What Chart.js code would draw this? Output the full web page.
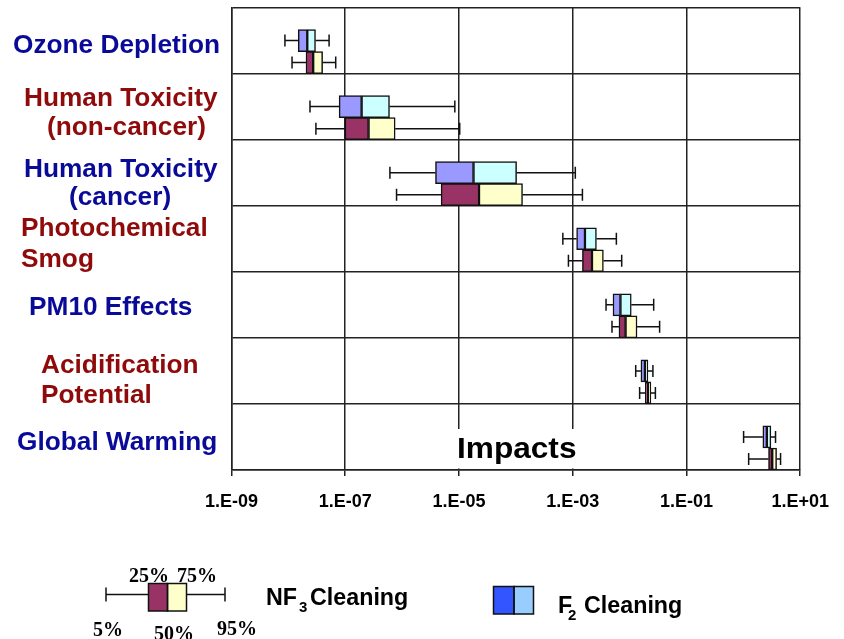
<!DOCTYPE html>
<html><head><meta charset="utf-8">
<script src="https://cdn.jsdelivr.net/npm/chart.js@4/dist/chart.umd.min.js"></script>
<style>html,body{margin:0;padding:0;background:#fff;}canvas{display:block;}</style>
</head><body>
<canvas id="c" width="844" height="639"></canvas>
<script>
// ---- data ----
const categories = ['Ozone Depletion', 'Human Toxicity (non-cancer)', 'Human Toxicity (cancer)',
  'Photochemical Smog', 'PM10 Effects', 'Acidification Potential', 'Global Warming'];
const labelLines = [['Ozone Depletion'], ['Human Toxicity', '(non-cancer)'], ['Human Toxicity', '(cancer)'],
  ['Photochemical', 'Smog'], ['PM10 Effects'], ['Acidification', 'Potential'], ['Global Warming']];

// F2 cleaning: 5%, 25%, 50%, 75%, 95%
const f2P5  = [8.7e-9, 2.4e-8, 6.1e-7, 6.7e-4, 3.85e-3, 1.28e-2, 1.01];
const f2Q1  = [1.49e-8, 7.8e-8, 3.86e-6, 1.17e-3, 5.1e-3, 1.58e-2, 2.2];
const f2Med = [2.15e-8, 1.94e-7, 1.8e-5, 1.64e-3, 6.9e-3, 1.86e-2, 2.59];
const f2Q3  = [3.0e-8, 6.0e-7, 1.03e-4, 2.61e-3, 1.07e-2, 2.1e-2, 3.05];
const f2P95 = [5.2e-8, 8.45e-6, 1.11e-3, 5.85e-3, 2.65e-2, 2.57e-2, 3.68];

// NF3 cleaning: 5%, 25%, 50%, 75%, 95%
const nf3P5  = [1.16e-8, 3.05e-8, 7.98e-7, 8.4e-4, 4.9e-3, 1.5e-2, 1.24];
const nf3Q1  = [2.04e-8, 9.9e-8, 4.85e-6, 1.48e-3, 6.5e-3, 1.89e-2, 2.77];
const nf3Med = [2.73e-8, 2.57e-7, 2.25e-5, 2.18e-3, 8.5e-3, 2.1e-2, 3.22];
const nf3Q3  = [4.0e-8, 7.55e-7, 1.31e-4, 3.46e-3, 1.35e-2, 2.37e-2, 3.84];
const nf3P95 = [6.8e-8, 1.03e-5, 1.48e-3, 7.26e-3, 3.37e-2, 2.84e-2, 4.51];

const xTickValues = [1e-9, 1e-7, 1e-5, 1e-3, 1e-1, 1e1];
const xTickLabels = ['1.E-09', '1.E-07', '1.E-05', '1.E-03', '1.E-01', '1.E+01'];

// ---- styling / layout ----
const BLUE = '#0a0a99', RED = '#8f0a0a';
const labelColors = [BLUE, RED, BLUE, RED, BLUE, RED, BLUE];
const labelX = [[14], [25, 48], [25, 70], [22, 22], [30], [42, 42], [18]];
const labelDy = [[12.8], [-0.6, 28.1], [4, 32.3], [-2.6, 28.7], [9.7], [1.8, 32.4], [12.7]];

function txt(ctx, s, x, y, font, color, sx) {
  ctx.save();
  ctx.font = font; ctx.fillStyle = color;
  ctx.textAlign = 'left'; ctx.textBaseline = 'alphabetic';
  ctx.translate(x, y); ctx.scale(sx || 1, 1);
  ctx.fillText(s, 0, 0);
  ctx.restore();
}

const whiskerPlugin = {
  id: 'whiskers',
  afterDatasetsDraw(chart) {
    const ctx = chart.ctx, xs = chart.scales.x;
    const series = [
      {ds: 1, p5: f2P5, q1: f2Q1, q3: f2Q3, p95: f2P95},
      {ds: 3, p5: nf3P5, q1: nf3Q1, q3: nf3Q3, p95: nf3P95}
    ];
    ctx.save();
    ctx.strokeStyle = '#111'; ctx.lineWidth = 1.5;
    series.forEach(s => {
      chart.getDatasetMeta(s.ds).data.forEach((el, i) => {
        const y = el.y;
        const a = xs.getPixelForValue(s.p5[i]), b = xs.getPixelForValue(s.q1[i]);
        const c = xs.getPixelForValue(s.q3[i]), d = xs.getPixelForValue(s.p95[i]);
        ctx.beginPath();
        ctx.moveTo(a, y); ctx.lineTo(b, y);
        ctx.moveTo(c, y); ctx.lineTo(d, y);
        ctx.moveTo(a, y - 6); ctx.lineTo(a, y + 6);
        ctx.moveTo(d, y - 6); ctx.lineTo(d, y + 6);
        ctx.stroke();
      });
    });
    ctx.restore();
  }
};

const decorPlugin = {
  id: 'decor',
  beforeDatasetsDraw(chart) {
    const ctx = chart.ctx;
    ctx.save();
    ctx.fillStyle = '#fff';
    ctx.fillRect(450, 429, 135, 39.5);
    ctx.restore();
    txt(ctx, 'Impacts', 457, 457.5, 'bold 29px "Liberation Sans", Arial, sans-serif', '#000', 1.09);
  },
  afterDraw(chart) {
    const ctx = chart.ctx, ys = chart.scales.y;
    // category labels
    labelLines.forEach((lines, i) => {
      const yc = ys.getPixelForValue(i);
      lines.forEach((line, j) => {
        txt(ctx, line, labelX[i][j] - 1, yc + labelDy[i][j], 'bold 25px "Liberation Sans", Arial, sans-serif', labelColors[i], 1.05);
      });
    });
    // legend: box plot key
    ctx.save();
    ctx.strokeStyle = '#111'; ctx.lineWidth = 1.5;
    ctx.beginPath();
    ctx.moveTo(106, 594.5); ctx.lineTo(148, 594.5);
    ctx.moveTo(187, 594.5); ctx.lineTo(225, 594.5);
    ctx.moveTo(106, 587.5); ctx.lineTo(106, 601.5);
    ctx.moveTo(225, 587.5); ctx.lineTo(225, 601.5);
    ctx.stroke();
    ctx.fillStyle = '#993366'; ctx.fillRect(148.5, 583.5, 19, 27.5);
    ctx.fillStyle = '#ffffcc'; ctx.fillRect(167.5, 583.5, 19, 27.5);
    ctx.strokeRect(148.5, 583.5, 19, 27.5);
    ctx.strokeRect(167.5, 583.5, 19, 27.5);
    // F2 key
    ctx.fillStyle = '#3355ff'; ctx.fillRect(493.5, 586.5, 20.5, 27.5);
    ctx.fillStyle = '#99ccff'; ctx.fillRect(514, 586.5, 19.5, 27.5);
    ctx.strokeRect(493.5, 586.5, 20.5, 27.5);
    ctx.strokeRect(514, 586.5, 19.5, 27.5);
    ctx.restore();
    const serif = 'bold 20px "Liberation Serif", "Times New Roman", serif';
    txt(ctx, '25%', 129, 582, serif, '#000');
    txt(ctx, '75%', 177, 582, serif, '#000');
    txt(ctx, '5%', 93, 636, serif, '#000');
    txt(ctx, '50%', 154, 640, serif, '#000');
    txt(ctx, '95%', 217, 635, serif, '#000');
    const sans = 'bold 24px "Liberation Sans", Arial, sans-serif';
    const sub = 'bold 15px "Liberation Sans", Arial, sans-serif';
    txt(ctx, 'NF', 266, 605, sans, '#000', 0.97);
    txt(ctx, '3', 299, 612, sub, '#000');
    txt(ctx, 'Cleaning', 310, 605, sans, '#000', 0.97);
    txt(ctx, 'F', 558, 613, sans, '#000', 0.97);
    txt(ctx, '2', 568, 620, sub, '#000');
    txt(ctx, 'Cleaning', 584, 613, sans, '#000', 0.97);
  }
};

const GRID = '#222';
new Chart(document.getElementById('c'), {
  type: 'bar',
  data: {
    labels: categories,
    datasets: [
      {label: 'pad', data: categories.map(() => null), stack: 'pad'},
      {label: 'F2 25-50%', data: f2Q1.map((v, i) => [v, f2Med[i]]), backgroundColor: '#9999ff', stack: 'f2'},
      {label: 'F2 50-75%', data: f2Med.map((v, i) => [v, f2Q3[i]]), backgroundColor: '#ccffff', stack: 'f2'},
      {label: 'NF3 25-50%', data: nf3Q1.map((v, i) => [v, nf3Med[i]]), backgroundColor: '#993366', stack: 'nf3'},
      {label: 'NF3 50-75%', data: nf3Med.map((v, i) => [v, nf3Q3[i]]), backgroundColor: '#ffffcc', stack: 'nf3'}
    ]
  },
  options: {
    indexAxis: 'y',
    responsive: false,
    animation: false,
    events: [],
    layout: {padding: {top: 7.5, right: 43, bottom: 119, left: 0}},
    datasets: {bar: {borderColor: '#111', borderWidth: 1.5, borderSkipped: false,
      categoryPercentage: 1, barPercentage: 1}},
    plugins: {legend: {display: false}, tooltip: {enabled: false}},
    scales: {
      x: {
        type: 'logarithmic', min: 1e-9, max: 10, stacked: false,
        afterBuildTicks: (s) => { s.ticks = xTickValues.map(v => ({value: v})); },
        afterFit: (s) => { s.height = 50; },
        ticks: {
          autoSkip: false, maxRotation: 0, padding: 15, color: '#000',
          font: {family: '"Liberation Sans", Arial, sans-serif', size: 18, weight: 'bold'},
          callback: (v, i) => xTickLabels[i]
        },
        grid: {color: GRID, lineWidth: 1.5, drawTicks: true, tickLength: 6, tickColor: GRID},
        border: {display: true, color: GRID, width: 1.5}
      },
      y: {
        type: 'category',
        afterFit: (s) => { s.width = 231.5; },
        ticks: {display: false},
        grid: {color: GRID, lineWidth: 1.5, drawTicks: false, offset: true},
        border: {display: true, color: GRID, width: 1.5}
      }
    }
  },
  plugins: [whiskerPlugin, decorPlugin]
});
</script>
</body></html>
